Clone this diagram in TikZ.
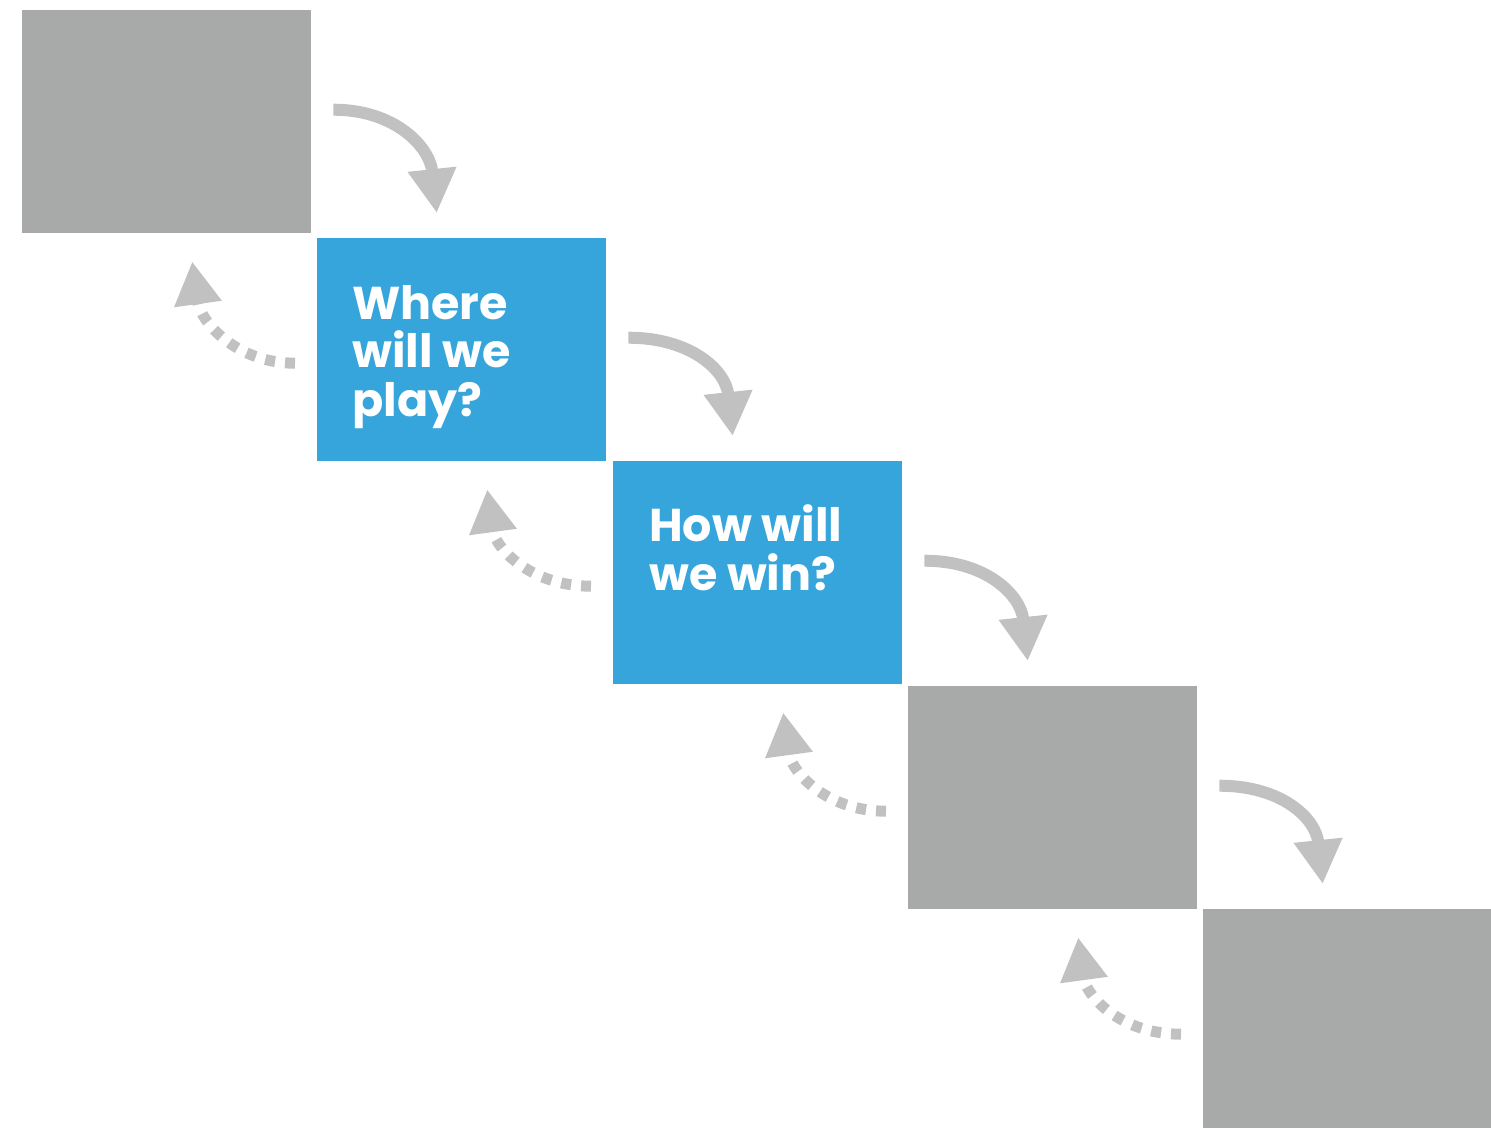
\documentclass[tikz,border=0pt]{standalone}
\usepackage{fontspec}
\setmainfont{Poppins}[BoldFont={* Bold}]
\usepackage{tikz}
\usetikzlibrary{arrows.meta,positioning,calc}
\definecolor{boxgrey}{HTML}{A7AAA9}
\definecolor{boxblue}{HTML}{35A5DB}
\definecolor{arrowgrey}{HTML}{C1C1C1}

\begin{document}
\begin{tikzpicture}[
    x=1pt, y=-1pt,
    stage/.style={rectangle, minimum width=289pt, minimum height=223pt, inner sep=0pt, anchor=north west},
    question/.style={anchor=base west, align=left, inner sep=0pt, text=white, font=\bfseries\fontsize{46}{48.5}\selectfont},
    flowarrow/.style={draw=arrowgrey, line width=12pt, -{Triangle[length=44pt, width=46pt]}},
    backarrow/.style={draw=arrowgrey, line width=11pt, dash pattern=on 10pt off 10pt, -{Triangle[length=43pt, width=45pt]}}
]
\useasboundingbox (0,0) rectangle (1491,1127);

\node[stage, fill=boxgrey] (s1) at (22, 10) {};
\node[stage, fill=boxblue] (s2) at (317, 238) {};
\node[stage, fill=boxblue] (s3) at (613, 461) {};
\node[stage, fill=boxgrey] (s4) at (908, 686) {};
\node[stage, fill=boxgrey] (s5) at (1203, 909) {};

% base is the last line
\node[question] (q2) at ($(s2.north west)+(35,178)$) {Where\\will we\\play?};
\node[question] (q3) at ($(s3.north west)+(36,129)$) {How will\\we win?};

% forward arrows
\draw[flowarrow] ($(s1.east)+(22,-12)$) .. controls +(62,0) and +(-7,-66) .. ($(s2.north)+(-25,-25)$);
\draw[flowarrow] ($(s2.east)+(22,-12)$) .. controls +(62,0) and +(-7,-66) .. ($(s3.north)+(-25,-25)$);
\draw[flowarrow] ($(s3.east)+(22,-12)$) .. controls +(62,0) and +(-7,-66) .. ($(s4.north)+(-25,-25)$);
\draw[flowarrow] ($(s4.east)+(22,-12)$) .. controls +(62,0) and +(-7,-66) .. ($(s5.north)+(-25,-25)$);

% feedback arrows
\draw[backarrow] ($(s2.west)+(-22,13.5)$) .. controls +(-60,0) and +(8,59) .. ($(s1.south)+(25.5,28)$);
\draw[backarrow] ($(s3.west)+(-22,13.5)$) .. controls +(-60,0) and +(8,59) .. ($(s2.south)+(25.5,28)$);
\draw[backarrow] ($(s4.west)+(-22,13.5)$) .. controls +(-60,0) and +(8,59) .. ($(s3.south)+(25.5,28)$);
\draw[backarrow] ($(s5.west)+(-22,13.5)$) .. controls +(-60,0) and +(8,59) .. ($(s4.south)+(25.5,28)$);

\end{tikzpicture}
\end{document}
